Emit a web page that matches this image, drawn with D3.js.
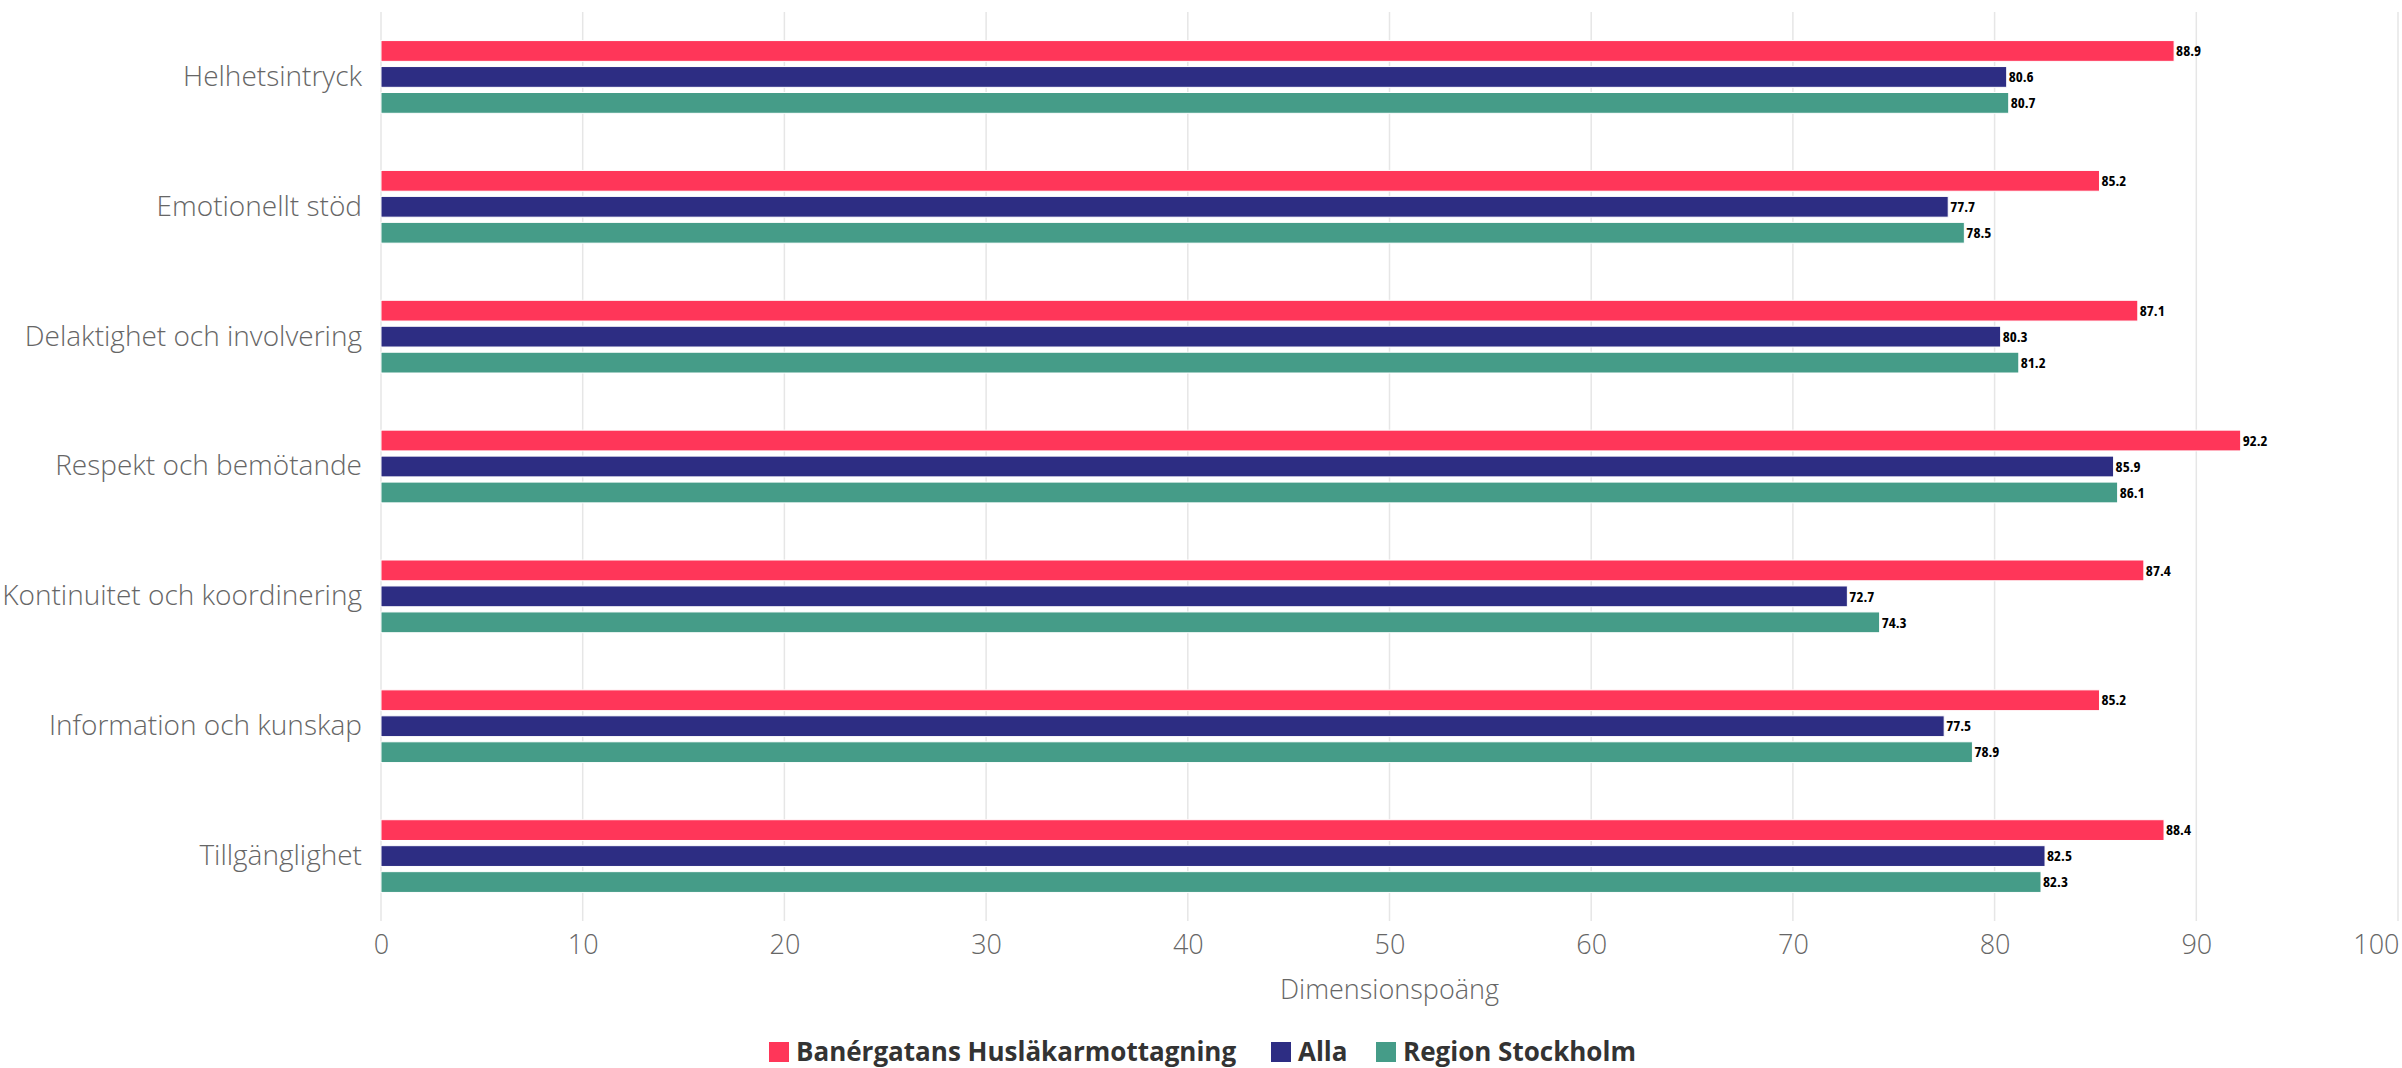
<!DOCTYPE html>
<html>
<head>
<meta charset="utf-8">
<script src="https://cdn.jsdelivr.net/npm/d3@7"></script>
<style>
  body { margin: 0; background: #fff; }
  text { font-family: 'Open Sans', sans-serif; }
  .vlabel { font-stretch: 75%; }
</style>
</head>
<body>
<script>
// ----- data -----
const categories = ['Helhetsintryck', 'Emotionellt stöd', 'Delaktighet och involvering',
  'Respekt och bemötande', 'Kontinuitet och koordinering', 'Information och kunskap', 'Tillgänglighet'];
const seriesNames = ['Banérgatans Husläkarmottagning', 'Alla', 'Region Stockholm'];
const banergatan = [88.9, 85.2, 87.1, 92.2, 87.4, 85.2, 88.4];
const alla = [80.6, 77.7, 80.3, 85.9, 72.7, 77.5, 82.5];
const region = [80.7, 78.5, 81.2, 86.1, 74.3, 78.9, 82.3];
const xTicks = [0, 10, 20, 30, 40, 50, 60, 70, 80, 90, 100];
const colors = ['#ff3659', '#2d2d83', '#459c88'];
const seriesValues = [banergatan, alla, region];

const W = 2402, H = 1068;
const plotLeft = 381, plotRight = 2398, plotTop = 12, plotBottom = 921;

const svg = d3.select('body').append('svg')
  .attr('width', W).attr('height', H);

const x = d3.scaleLinear().domain([0, 100]).range([plotLeft, plotRight]);
const y0 = d3.scaleBand().domain(categories).range([plotTop, plotBottom])
  .paddingInner(0.4).paddingOuter(0.2);
const y1 = d3.scaleBand().domain(seriesNames).range([0, y0.bandwidth()])
  .paddingInner(0.2).paddingOuter(0.1);

// ----- gridlines -----
svg.append('g').selectAll('line')
  .data(xTicks)
  .join('line')
  .attr('x1', d => x(d)).attr('x2', d => x(d))
  .attr('y1', plotTop).attr('y2', plotBottom)
  .attr('stroke', '#e6e6e6').attr('stroke-width', 1.5);

// ----- x axis labels -----
const xAxis = svg.append('g')
  .attr('transform', `translate(0, ${plotBottom})`)
  .call(d3.axisBottom(x).tickValues(xTicks).tickSize(0).tickPadding(14));
xAxis.select('.domain').remove();
xAxis.selectAll('text')
  .attr('font-size', 27).attr('font-weight', 300).attr('fill', '#666')
  .attr('text-anchor', d => d === 100 ? 'end' : 'middle')
  .attr('dx', d => d === 100 ? 1 : 0);

svg.append('text')
  .attr('x', (plotLeft + plotRight) / 2).attr('y', 990)
  .attr('dy', '0.35em')
  .attr('text-anchor', 'middle')
  .attr('font-size', 27).attr('font-weight', 300).attr('fill', '#666')
  .text('Dimensionspoäng');

// ----- y axis labels -----
const yAxis = svg.append('g')
  .attr('transform', `translate(${plotLeft}, 0)`)
  .call(d3.axisLeft(y0).tickSize(0).tickPadding(19));
yAxis.select('.domain').remove();
yAxis.selectAll('text')
  .attr('font-size', 28).attr('font-weight', 300).attr('fill', '#666');

// ----- bars -----
const groups = svg.append('g').selectAll('g')
  .data(categories)
  .join('g')
  .attr('transform', d => `translate(0, ${y0(d)})`);

groups.selectAll('rect')
  .data((c, i) => seriesNames.map((s, j) => ({ s, j, v: seriesValues[j][i] })))
  .join('rect')
  .attr('x', x(0))
  .attr('y', d => y1(d.s))
  .attr('width', d => x(d.v) - x(0))
  .attr('height', y1.bandwidth())
  .attr('fill', d => colors[d.j])
  .attr('stroke', '#fff').attr('stroke-width', 1);

groups.selectAll('text')
  .data((c, i) => seriesNames.map((s, j) => ({ s, j, v: seriesValues[j][i] })))
  .join('text')
  .attr('class', 'vlabel')
  .attr('x', d => x(d.v) + 2)
  .attr('y', d => y1(d.s) + y1.bandwidth() / 2)
  .attr('dy', '0.35em')
  .attr('font-size', 15).attr('font-weight', 700).attr('fill', '#000')
  .text(d => d.v.toFixed(1));

// ----- legend -----
const legendX = [769, 1271, 1376];
const legend = svg.append('g').selectAll('g')
  .data(seriesNames)
  .join('g')
  .attr('transform', (d, i) => `translate(${legendX[i]}, 1052)`);

legend.append('rect')
  .attr('x', 0).attr('y', -10)
  .attr('width', 20).attr('height', 20)
  .attr('fill', (d, i) => colors[i]);

legend.append('text')
  .attr('x', 27).attr('dy', '0.35em')
  .attr('font-size', 26).attr('font-weight', 700).attr('fill', '#333')
  .text(d => d);
</script>
</body>
</html>
